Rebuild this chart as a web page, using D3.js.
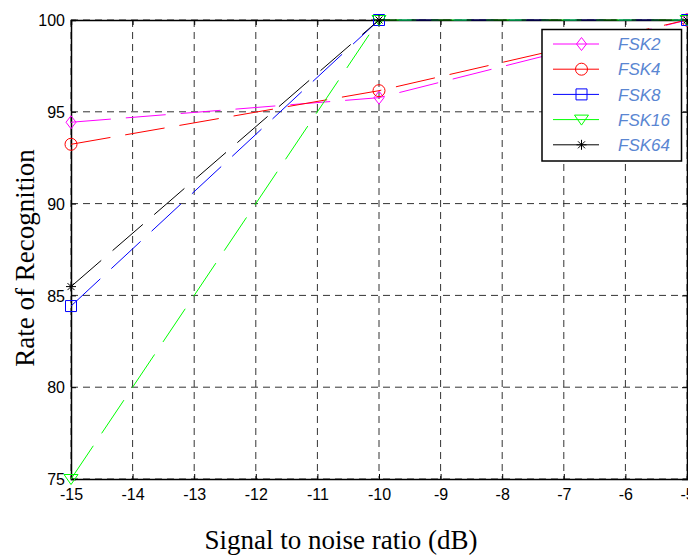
<!DOCTYPE html>
<html>
<head>
<meta charset="utf-8">
<script src="https://cdn.jsdelivr.net/npm/d3@7"></script>
<style>
  html, body { margin: 0; padding: 0; background: #fff; overflow: hidden; }
  svg { display: block; }
</style>
</head>
<body>
<script>
const snr = [-15, -10, -5];
const fsk2 = [94.43, 95.77, 100];
const fsk4 = [93.23, 96.15, 100];
const fsk8 = [84.42, 100, 100];
const fsk16 = [75, 100, 100];
const fsk64 = [85.48, 100, 100];
const seriesNames = ["FSK2", "FSK4", "FSK8", "FSK16", "FSK64"];
const seriesValues = [fsk2, fsk4, fsk8, fsk16, fsk64];
const xTicks = [-15, -14, -13, -12, -11, -10, -9, -8, -7, -6, -5];
const yTicks = [75, 80, 85, 90, 95, 100];
const xLabel = "Signal to noise ratio (dB)";
const yLabel = "Rate of Recognition";

const styles = [
  {color: "#ff00ff", marker: "diamond"},
  {color: "#ff0000", marker: "circle"},
  {color: "#0000ff", marker: "square"},
  {color: "#00ff00", marker: "triangle"},
  {color: "#000000", marker: "star"}
];

const W = 688, H = 557;
const L = 71, R = 687, T = 20, B = 479;

const svg = d3.select("body").append("svg").attr("width", W).attr("height", H);

const x = d3.scaleLinear().domain([-15, -5]).range([L, R]);
const y = d3.scaleLinear().domain([75, 100]).range([B, T]);

// grid
const grid = svg.append("g");
grid.selectAll(".gx").data(xTicks).enter().append("line")
  .attr("x1", d => x(d)).attr("x2", d => x(d)).attr("y1", T).attr("y2", B)
  .attr("stroke", "#333").attr("stroke-width", 1).attr("stroke-dasharray", "7,5");
grid.selectAll(".gy").data(yTicks).enter().append("line")
  .attr("y1", d => y(d)).attr("y2", d => y(d)).attr("x1", L).attr("x2", R)
  .attr("stroke", "#333").attr("stroke-width", 1).attr("stroke-dasharray", "7,5");

// axes
const fontTick = "'Liberation Sans', Arial, sans-serif";
const fmt = d => String(d);
const xAxis = d3.axisBottom(x).tickValues(xTicks).tickSize(-5).tickPadding(10).tickFormat(fmt);
const gx = svg.append("g").attr("transform", `translate(0,${B})`).call(xAxis);
const yAxis = d3.axisLeft(y).tickValues(yTicks).tickSize(-5).tickPadding(6).tickFormat(fmt);
const gy = svg.append("g").attr("transform", `translate(${L},0)`).call(yAxis);
const xTop = d3.axisTop(x).tickValues(xTicks).tickSize(-5).tickFormat("");
svg.append("g").attr("transform", `translate(0,${T})`).call(xTop);
const yRight = d3.axisRight(y).tickValues(yTicks).tickSize(-5).tickFormat("");
svg.append("g").attr("transform", `translate(${R},0)`).call(yRight);
svg.selectAll(".domain").attr("stroke", "#000").attr("stroke-width", 1.5);
svg.selectAll(".tick line").attr("stroke", "#000");
[gx, gy].forEach(g => g.selectAll("text")
  .attr("font-family", fontTick).attr("font-size", 16).attr("fill", "#000"));
gx.selectAll("text").attr("dy", "0.71em");
gy.selectAll("text").attr("dy", "0.36em");

function markerPath(type) {
  switch (type) {
    case "diamond": return "M0,-6.5L5,0L0,6.5L-5,0Z";
    case "circle": return d3.symbol().type(d3.symbolCircle).size(Math.PI * 36)();
    case "square": return "M-5.5,-5.5H5.5V5.5H-5.5Z";
    case "triangle": return "M-7,-4.5H7L0,5.5Z";
    case "star": return "M-5,0H5M0,-5V5M-3.5,-3.5L3.5,3.5M-3.5,3.5L3.5,-3.5";
  }
}

const line = d3.line().x((d, i) => x(snr[i])).y(d => y(d));
const plot = svg.append("g");
seriesValues.forEach((vals, si) => {
  const st = styles[si];
  const g = plot.append("g");
  g.append("path").datum(vals).attr("d", line)
    .attr("fill", "none").attr("stroke", st.color).attr("stroke-width", 1)
    .attr("stroke-dasharray", "40,15");
  g.selectAll("path.m").data(vals).enter().append("path").attr("class", "m")
    .attr("transform", (d, i) => `translate(${x(snr[i])},${y(d)})`)
    .attr("d", markerPath(st.marker))
    .attr("fill", "none").attr("stroke", st.color).attr("stroke-width", 1);
});

// legend
const lg = svg.append("g");
lg.append("rect").attr("x", 542).attr("y", 29.5).attr("width", 139.5).attr("height", 131.5)
  .attr("fill", "#fff").attr("stroke", "#000").attr("stroke-width", 1.5);
seriesNames.forEach((name, i) => {
  const yy = 44 + i * 25.2;
  const st = styles[i];
  lg.append("line").attr("x1", 553).attr("x2", 599).attr("y1", yy).attr("y2", yy)
    .attr("stroke", st.color).attr("stroke-width", 1);
  lg.append("path").attr("transform", `translate(581.5,${yy})`).attr("d", markerPath(st.marker))
    .attr("fill", "none").attr("stroke", st.color).attr("stroke-width", 1);
  lg.append("text").attr("x", 618).attr("y", yy).attr("dy", "0.36em")
    .attr("font-family", fontTick).attr("font-style", "italic").attr("font-size", 17)
    .attr("fill", "#5a86d2").text(name);
});

// axis labels
const fontLabel = "'Liberation Serif', 'Times New Roman', serif";
svg.append("text").attr("x", 341).attr("y", 549).attr("text-anchor", "middle")
  .attr("font-family", fontLabel).attr("font-size", 27).attr("fill", "#000").text(xLabel);
svg.append("text").attr("transform", "translate(34,258) rotate(-90)").attr("text-anchor", "middle")
  .attr("font-family", fontLabel).attr("font-size", 27).attr("fill", "#000").text(yLabel);
</script>
</body>
</html>
